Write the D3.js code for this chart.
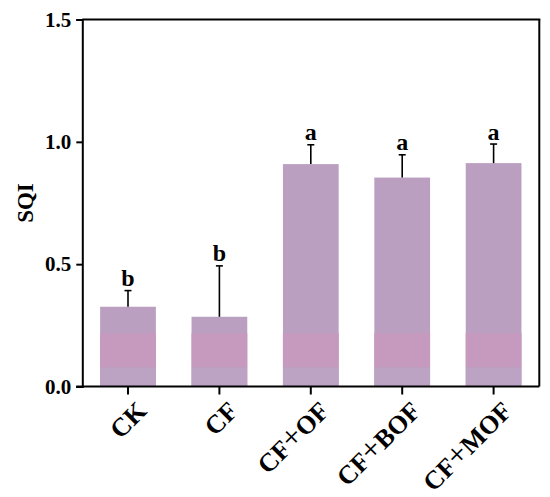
<html>
<head>
    <title>SQI bar chart</title>
    <style>
        body { margin: 0; background: #fff; }
        text { font-family: "Liberation Serif", "Times New Roman", serif; font-weight: bold; fill: #000; }
        .axis path, .axis line { stroke: #000; stroke-width: 2; }
        .frame { stroke: #000; stroke-width: 2; }
        .err line { stroke: #000; stroke-width: 1.6; }
    </style>
</head>
<body>
<div id="target"></div>

<script src="https://cdn.jsdelivr.net/npm/d3@7/dist/d3.min.js"></script>
<script>
    var treatments = ['CK', 'CF', 'CF+OF', 'CF+BOF', 'CF+MOF'];
    var sqi = [0.326, 0.285, 0.909, 0.854, 0.913];
    var sqiErr = [0.066, 0.208, 0.079, 0.093, 0.078];
    var letters = ['b', 'b', 'a', 'a', 'a'];
    var yTicks = [0.0, 0.5, 1.0, 1.5];

    var width = 550, height = 497;
    var margin = {top: 19.5, right: 10.7, bottom: 110.5, left: 82.3};
    var w = width - margin.left - margin.right;
    var h = height - margin.top - margin.bottom;

    var svg = d3.select('#target')
            .append('svg')
            .attr('width', width)
            .attr('height', height);

    var g = svg.append('g')
            .attr('transform', 'translate(' + margin.left + ',' + margin.top + ')');

    var x = d3.scaleBand()
            .domain(treatments)
            .range([0, w])
            .paddingInner(0.39)
            .paddingOuter(0.195);

    var y = d3.scaleLinear()
            .domain([0, 1.5])
            .range([h, 0]);

    //the bars show a faint pink stripe near the bottom, drawn as overlays
    var stripes = [
        {from: 0, to: 0.079, color: '#bca2c3'},
        {from: 0.079, to: 0.218, color: '#c699be'}
    ];

    var gBars = g.append('g').attr('class', 'bars');
    var bar = gBars.selectAll('g.bar')
            .data(treatments)
            .enter()
            .append('g')
            .attr('class', 'bar');

    bar.append('rect')
            .attr('x', function (d) { return x(d); })
            .attr('width', x.bandwidth())
            .attr('y', function (d, i) { return y(sqi[i]); })
            .attr('height', function (d, i) { return h - y(sqi[i]); })
            .attr('fill', '#bb9fc0');

    stripes.forEach(function (s) {
        bar.append('rect')
                .attr('x', function (d) { return x(d); })
                .attr('width', x.bandwidth())
                .attr('y', function (d, i) { return y(Math.min(s.to, sqi[i])); })
                .attr('height', function (d, i) { return y(s.from) - y(Math.min(s.to, sqi[i])); })
                .attr('fill', s.color);
    });

    //error bars, upper half only
    var capHalf = 3.5;
    var err = g.append('g').attr('class', 'err')
            .selectAll('g')
            .data(treatments)
            .enter()
            .append('g');
    err.append('line')
            .attr('x1', function (d) { return x(d) + x.bandwidth() / 2; })
            .attr('x2', function (d) { return x(d) + x.bandwidth() / 2; })
            .attr('y1', function (d, i) { return y(sqi[i]); })
            .attr('y2', function (d, i) { return y(sqi[i] + sqiErr[i]); });
    err.append('line')
            .attr('x1', function (d) { return x(d) + x.bandwidth() / 2 - capHalf; })
            .attr('x2', function (d) { return x(d) + x.bandwidth() / 2 + capHalf; })
            .attr('y1', function (d, i) { return y(sqi[i] + sqiErr[i]); })
            .attr('y2', function (d, i) { return y(sqi[i] + sqiErr[i]); });

    //significance letters
    g.append('g').selectAll('text')
            .data(treatments)
            .enter()
            .append('text')
            .attr('x', function (d) { return x(d) + x.bandwidth() / 2; })
            .attr('y', function (d, i) { return y(sqi[i] + sqiErr[i]) - 4.5; })
            .attr('text-anchor', 'middle')
            .style('font-size', '24px')
            .text(function (d, i) { return letters[i]; });

    //frame top and right
    g.append('line').attr('class', 'frame')
            .attr('x1', 0).attr('x2', w + 1).attr('y1', 0).attr('y2', 0);
    g.append('line').attr('class', 'frame')
            .attr('x1', w).attr('x2', w).attr('y1', 0).attr('y2', h);

    var yAxis = g.append('g')
            .attr('class', 'axis')
            .call(d3.axisLeft(y).tickValues(yTicks).tickFormat(d3.format('.1f')).tickSize(6).tickPadding(5));
    yAxis.selectAll('text').style('font-size', '21px');

    var xAxis = g.append('g')
            .attr('class', 'axis')
            .attr('transform', 'translate(0,' + h + ')')
            .call(d3.axisBottom(x).tickSize(8).tickSizeOuter(0));
    xAxis.select('.domain').attr('d', 'M-6,0H' + w);

    //rebuild the labels so the plus sign is thin and wide like the original
    xAxis.selectAll('.tick text')
            .text(null)
            .style('font-size', '26px')
            .attr('text-anchor', 'end')
            .attr('dy', null)
            .attr('y', null)
            .attr('transform', 'translate(20,26) rotate(-45)')
            .each(function (d) {
                var t = d3.select(this);
                d.split('+').forEach(function (part, k) {
                    if (k > 0) {
                        t.append('tspan')
                                .style('font-weight', 'normal')
                                .style('font-size', '32px')
                                .text('+');
                    }
                    t.append('tspan').text(part);
                });
            });

    g.append('text')
            .attr('transform', 'translate(' + (-49) + ',' + y(0.75) + ') rotate(-90)')
            .attr('text-anchor', 'middle')
            .style('font-size', '23px')
            .text('SQI');
</script>

</body>
</html>
